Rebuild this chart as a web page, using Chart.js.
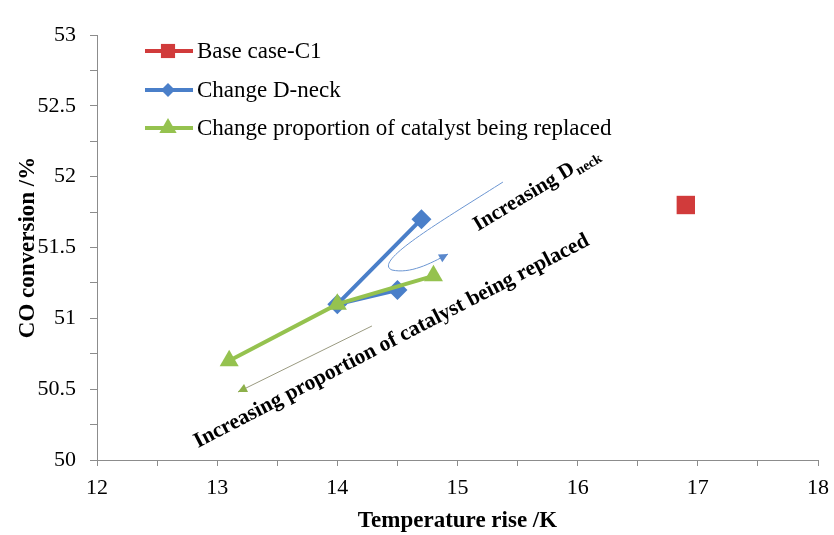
<!DOCTYPE html>
<html>
<head>
<meta charset="utf-8">
<script src="https://cdn.jsdelivr.net/npm/chart.js@4.4.1/dist/chart.umd.min.js"></script>
<style>
    html, body { margin: 0; padding: 0; background: #fff; }
    #wrap { width: 834px; height: 535px; }
</style>
</head>
<body>
<div id="wrap"><canvas id="chart" width="834" height="535"></canvas></div>
<script>

// data
const seriesNames = ['Base case-C1', 'Change D-neck', 'Change proportion of catalyst being replaced']
const baseCaseX = [16.9]
const baseCaseY = [51.8]
const dneckX = [14.5, 14.0, 14.7]
const dneckY = [51.2, 51.1, 51.7]
const catalystX = [13.1, 14.0, 14.8]
const catalystY = [50.7, 51.1, 51.3]
const xTickLabels = [12, 13, 14, 15, 16, 17, 18]
const yTickLabels = [50, 50.5, 51, 51.5, 52, 52.5, 53]

const RED = '#D13B3B'
const BLUE = '#4A7FC9'
const GREEN = '#95C24F'
const AXIS = '#8C8C8C'
const SERIF = '"Liberation Serif", "Times New Roman", serif'

function toPoints(xs, ys) {
    return xs.map((x, i) => ({ x: x, y: ys[i] }))
}

// arrows and labels placed in data units
const dneckArrow = [
    [15.378, 51.962], [14.854, 51.680], [14.288, 51.398], [14.455, 51.341],
    [14.605, 51.313], [14.771, 51.384], [14.921, 51.454]
]
const catalystArrow = [[14.288, 50.946], [13.173, 50.480]]

function arrowHead(ctx, x, y, angle, size, color) {
    ctx.save()
    ctx.translate(x, y)
    ctx.rotate(angle)
    ctx.beginPath()
    ctx.moveTo(0, 0)
    ctx.lineTo(-size, -size * 0.5)
    ctx.lineTo(-size, size * 0.5)
    ctx.closePath()
    ctx.fillStyle = color
    ctx.fill()
    ctx.restore()
}

const annotations = {
    id: 'annotations',
    afterDatasetsDraw(chart) {
        const ctx = chart.ctx
        const sx = chart.scales.x
        const sy = chart.scales.y
        const px = p => [sx.getPixelForValue(p[0]), sy.getPixelForValue(p[1])]

        ctx.save()

        // curved blue arrow
        const a = dneckArrow.map(px)
        ctx.beginPath()
        ctx.moveTo(a[0][0], a[0][1])
        ctx.bezierCurveTo(a[1][0], a[1][1], a[2][0], a[2][1], a[3][0], a[3][1])
        ctx.bezierCurveTo(a[4][0], a[4][1], a[5][0], a[5][1], a[6][0], a[6][1])
        ctx.strokeStyle = '#6C96D2'
        ctx.lineWidth = 1
        ctx.stroke()
        arrowHead(ctx, a[6][0], a[6][1], Math.atan2(a[6][1] - a[5][1], a[6][0] - a[5][0]), 9, '#5A88CC')

        // straight olive arrow
        const b = catalystArrow.map(px)
        ctx.beginPath()
        ctx.moveTo(b[0][0], b[0][1])
        ctx.lineTo(b[1][0], b[1][1])
        ctx.strokeStyle = '#9A9A80'
        ctx.lineWidth = 1
        ctx.stroke()
        arrowHead(ctx, b[1][0], b[1][1], Math.atan2(b[1][1] - b[0][1], b[1][0] - b[0][0]), 9, '#8DB04A')

        ctx.fillStyle = '#000'
        ctx.textBaseline = 'alphabetic'
        ctx.textAlign = 'left'

        // Increasing D_neck
        let p = px([15.17, 51.615])
        ctx.save()
        ctx.translate(p[0], p[1])
        ctx.rotate(-31 * Math.PI / 180)
        ctx.font = 'bold 21px ' + SERIF
        ctx.fillText('Increasing D', 0, 0)
        const w = ctx.measureText('Increasing D').width
        ctx.font = 'bold 14px ' + SERIF
        ctx.fillText('neck', w + 1, 4)
        ctx.restore()

        // Increasing proportion ...
        p = px([12.84, 50.085])
        ctx.save()
        ctx.translate(p[0], p[1])
        ctx.rotate(-27.4 * Math.PI / 180)
        ctx.font = 'bold 21.6px ' + SERIF
        ctx.fillText('Increasing proportion of catalyst being replaced', 0, 0)
        ctx.restore()

        ctx.restore()
    }
}

const legendBox = {
    id: 'legendBox',
    afterDraw(chart) {
        const ctx = chart.ctx
        const rows = [51, 90, 128]
        ctx.save()
        chart.data.datasets.forEach((ds, i) => {
            const y = rows[i]
            ctx.beginPath()
            ctx.moveTo(145, y)
            ctx.lineTo(193, y)
            ctx.strokeStyle = ds.borderColor
            ctx.lineWidth = 4
            ctx.stroke()
            ctx.fillStyle = ds.backgroundColor
            Chart.helpers.drawPoint(ctx, {
                pointStyle: ds.pointStyle,
                radius: ds.legendRadius,
                borderWidth: 0
            }, 168, y)
            ctx.fillStyle = '#000'
            ctx.font = '23px ' + SERIF
            ctx.textBaseline = 'middle'
            ctx.textAlign = 'left'
            ctx.fillText(seriesNames[i], 197, y + 1)
        })
        ctx.restore()
    }
}

new Chart(document.getElementById('chart'), {
    type: 'scatter',
    data: {
        datasets: [
            {
                label: seriesNames[0],
                data: toPoints(baseCaseX, baseCaseY),
                borderColor: RED,
                backgroundColor: RED,
                pointStyle: 'rect',
                pointRadius: 13,
                legendRadius: 10,
                pointBorderWidth: 0,
                showLine: false,
                order: 2
            },
            {
                label: seriesNames[1],
                data: toPoints(dneckX, dneckY),
                borderColor: BLUE,
                backgroundColor: BLUE,
                pointStyle: 'rectRot',
                pointRadius: 10,
                legendRadius: 7,
                pointBorderWidth: 0,
                showLine: true,
                borderWidth: 4,
                order: 1
            },
            {
                label: seriesNames[2],
                data: toPoints(catalystX, catalystY),
                borderColor: GREEN,
                backgroundColor: GREEN,
                pointStyle: 'triangle',
                pointRadius: 11,
                legendRadius: 10,
                pointBorderWidth: 0,
                showLine: true,
                borderWidth: 4,
                order: 0
            }
        ]
    },
    options: {
        responsive: false,
        animation: false,
        devicePixelRatio: 1,
        layout: {
            padding: { left: 0, right: 16, top: 35, bottom: 0 }
        },
        plugins: {
            legend: { display: false },
            tooltip: { enabled: false }
        },
        scales: {
            x: {
                type: 'linear',
                min: 12,
                max: 18,
                afterFit(scale) {
                    scale.height = 75
                    scale.paddingRight = 0
                },
                ticks: {
                    stepSize: 0.5,
                    autoSkip: false,
                    maxRotation: 0,
                    padding: 9,
                    color: '#000',
                    font: { family: SERIF, size: 22 },
                    callback: v => xTickLabels.includes(v) ? String(v) : ''
                },
                grid: { drawOnChartArea: false, tickLength: 6, color: AXIS },
                border: { color: AXIS, width: 1 },
                title: {
                    display: true,
                    text: 'Temperature rise /K',
                    color: '#000',
                    font: { family: SERIF, size: 23, weight: 'bold' },
                    padding: { top: 3, bottom: 0 }
                }
            },
            y: {
                type: 'linear',
                min: 50,
                max: 53,
                afterFit(scale) { scale.width = 97 },
                ticks: {
                    stepSize: 0.25,
                    autoSkip: false,
                    padding: 14,
                    color: '#000',
                    font: { family: SERIF, size: 22 },
                    callback: v => yTickLabels.includes(v) ? String(v) : ''
                },
                grid: { drawOnChartArea: false, tickLength: 7, color: AXIS },
                border: { color: AXIS, width: 1 },
                title: {
                    display: true,
                    text: 'CO conversion /%',
                    color: '#000',
                    font: { family: SERIF, size: 23, weight: 'bold' },
                    padding: { top: 14, bottom: 0 }
                }
            }
        }
    },
    plugins: [annotations, legendBox]
})
</script>
</body>
</html>
